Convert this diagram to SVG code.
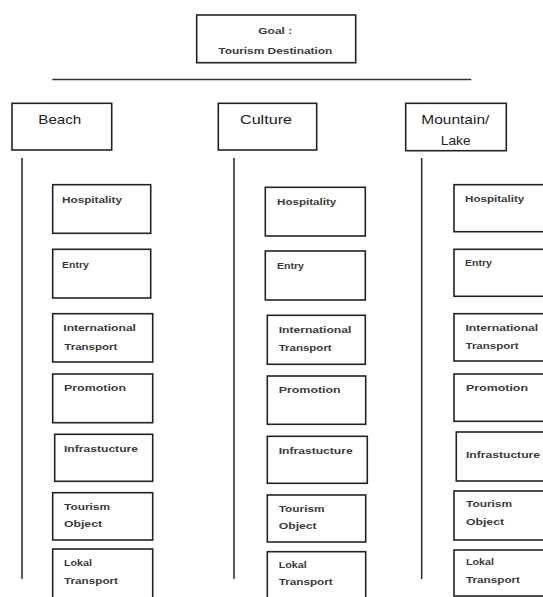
<svg xmlns="http://www.w3.org/2000/svg" width="543" height="597" viewBox="0 0 543 597">
<style>
.box{fill:#fff;stroke:#222;stroke-width:1.6}
.ln{stroke:#333;stroke-width:1.6;fill:none}
.s{font-family:"Liberation Sans",Arial,sans-serif;font-size:9.5px;font-weight:bold;fill:#3a3a3a}
.h{font-family:"Liberation Sans",Arial,sans-serif;font-size:13px;fill:#222}
.g{font-family:"Liberation Sans",Arial,sans-serif;font-size:9px;font-weight:bold;fill:#3a3a3a}
</style>
<rect width="543" height="597" fill="#fff"/>
<g id="connectors">
<line class="ln" x1="52.3" y1="79.5" x2="471.3" y2="79.5" stroke-width="2"/>
<line class="ln" x1="22" y1="158" x2="22" y2="579"/>
<line class="ln" x1="234" y1="158" x2="234" y2="579"/>
<line class="ln" x1="421.7" y1="158" x2="421.7" y2="579"/>
</g>
<g id="goal">
<rect class="box" x="196.7" y="15" width="159" height="47.7"/>
<text class="g" x="258.3" y="34" textLength="34" lengthAdjust="spacingAndGlyphs">Goal :</text>
<text class="g" x="218.3" y="54" textLength="114" lengthAdjust="spacingAndGlyphs">Tourism Destination</text>
</g>
<g id="beach">
<rect class="box" x="12" y="103.3" width="99.7" height="46.7"/>
<text class="h" x="38.3" y="124" textLength="43" lengthAdjust="spacingAndGlyphs">Beach</text>
</g>
<g id="culture">
<rect class="box" x="218.3" y="103.3" width="98.4" height="46.7"/>
<text class="h" x="240" y="124" textLength="52" lengthAdjust="spacingAndGlyphs">Culture</text>
</g>
<g id="mountain">
<rect class="box" x="405.7" y="103.3" width="100.6" height="47.4"/>
<text class="h" x="421.3" y="124" textLength="68" lengthAdjust="spacingAndGlyphs">Mountain/</text>
<text class="h" x="440.7" y="145" textLength="30" lengthAdjust="spacingAndGlyphs">Lake</text>
</g>
<!-- Beach column -->
<g id="b-hospitality"><rect class="box" x="52.7" y="184.7" width="98" height="48.6"/><text class="s" x="62" y="203" textLength="60" lengthAdjust="spacingAndGlyphs">Hospitality</text></g>
<g id="b-entry"><rect class="box" x="52.7" y="249.3" width="98" height="48.7"/><text class="s" x="62" y="267.5" textLength="27" lengthAdjust="spacingAndGlyphs">Entry</text></g>
<g id="b-intl"><rect class="box" x="52.7" y="313.7" width="100" height="48.3"/><text class="s" x="63.3" y="331" textLength="72.7" lengthAdjust="spacingAndGlyphs">International</text><text class="s" x="64.3" y="349.5" textLength="53" lengthAdjust="spacingAndGlyphs">Transport</text></g>
<g id="b-promotion"><rect class="box" x="52.7" y="374" width="100" height="48.7"/><text class="s" x="64" y="391" textLength="62" lengthAdjust="spacingAndGlyphs">Promotion</text></g>
<g id="b-infra"><rect class="box" x="54.7" y="434.3" width="98" height="47"/><text class="s" x="64" y="452" textLength="74" lengthAdjust="spacingAndGlyphs">Infrastucture</text></g>
<g id="b-tourism"><rect class="box" x="52.7" y="492.7" width="100" height="47.3"/><text class="s" x="64" y="509.5" textLength="46" lengthAdjust="spacingAndGlyphs">Tourism</text><text class="s" x="64" y="527" textLength="38" lengthAdjust="spacingAndGlyphs">Object</text></g>
<g id="b-lokal"><rect class="box" x="52.7" y="549" width="100" height="52"/><text class="s" x="64" y="566" textLength="28" lengthAdjust="spacingAndGlyphs">Lokal</text><text class="s" x="64" y="584" textLength="54" lengthAdjust="spacingAndGlyphs">Transport</text></g>
<!-- Culture column -->
<g id="c-hospitality"><rect class="box" x="265.3" y="187.3" width="100" height="48.7"/><text class="s" x="277" y="204.5" textLength="59.3" lengthAdjust="spacingAndGlyphs">Hospitality</text></g>
<g id="c-entry"><rect class="box" x="265.3" y="251" width="100" height="49"/><text class="s" x="277" y="268.5" textLength="27" lengthAdjust="spacingAndGlyphs">Entry</text></g>
<g id="c-intl"><rect class="box" x="267.3" y="315.3" width="98" height="49"/><text class="s" x="278.7" y="333" textLength="72.7" lengthAdjust="spacingAndGlyphs">International</text><text class="s" x="278.7" y="351" textLength="53" lengthAdjust="spacingAndGlyphs">Transport</text></g>
<g id="c-promotion"><rect class="box" x="267.3" y="376" width="98.4" height="48.3"/><text class="s" x="278.7" y="393" textLength="62" lengthAdjust="spacingAndGlyphs">Promotion</text></g>
<g id="c-infra"><rect class="box" x="267.3" y="436.3" width="100" height="47"/><text class="s" x="278.7" y="453.5" textLength="74" lengthAdjust="spacingAndGlyphs">Infrastucture</text></g>
<g id="c-tourism"><rect class="box" x="267.3" y="495" width="98.4" height="47"/><text class="s" x="278.7" y="511.5" textLength="46" lengthAdjust="spacingAndGlyphs">Tourism</text><text class="s" x="278.7" y="529" textLength="38" lengthAdjust="spacingAndGlyphs">Object</text></g>
<g id="c-lokal"><rect class="box" x="267.3" y="551.7" width="98.4" height="50"/><text class="s" x="278.7" y="567.5" textLength="28" lengthAdjust="spacingAndGlyphs">Lokal</text><text class="s" x="278.7" y="585" textLength="54" lengthAdjust="spacingAndGlyphs">Transport</text></g>
<!-- Mountain column -->
<g id="m-hospitality"><rect class="box" x="454" y="184.7" width="100" height="47"/><text class="s" x="465" y="202" textLength="59.3" lengthAdjust="spacingAndGlyphs">Hospitality</text></g>
<g id="m-entry"><rect class="box" x="454" y="249.3" width="100" height="47"/><text class="s" x="465" y="266" textLength="27" lengthAdjust="spacingAndGlyphs">Entry</text></g>
<g id="m-intl"><rect class="box" x="454" y="313.7" width="100" height="47.3"/><text class="s" x="465.5" y="330.5" textLength="72.7" lengthAdjust="spacingAndGlyphs">International</text><text class="s" x="465.5" y="348.5" textLength="53" lengthAdjust="spacingAndGlyphs">Transport</text></g>
<g id="m-promotion"><rect class="box" x="454" y="374" width="100" height="47.3"/><text class="s" x="466" y="391" textLength="62" lengthAdjust="spacingAndGlyphs">Promotion</text></g>
<g id="m-infra"><rect class="box" x="456.3" y="432" width="100" height="49"/><text class="s" x="466" y="458" textLength="74" lengthAdjust="spacingAndGlyphs">Infrastucture</text></g>
<g id="m-tourism"><rect class="box" x="454" y="491" width="100" height="49"/><text class="s" x="466" y="507" textLength="46" lengthAdjust="spacingAndGlyphs">Tourism</text><text class="s" x="466" y="524.5" textLength="38" lengthAdjust="spacingAndGlyphs">Object</text></g>
<g id="m-lokal"><rect class="box" x="454" y="550" width="100" height="46"/><text class="s" x="466" y="564.5" textLength="28" lengthAdjust="spacingAndGlyphs">Lokal</text><text class="s" x="466" y="582.5" textLength="54" lengthAdjust="spacingAndGlyphs">Transport</text></g>
</svg>
